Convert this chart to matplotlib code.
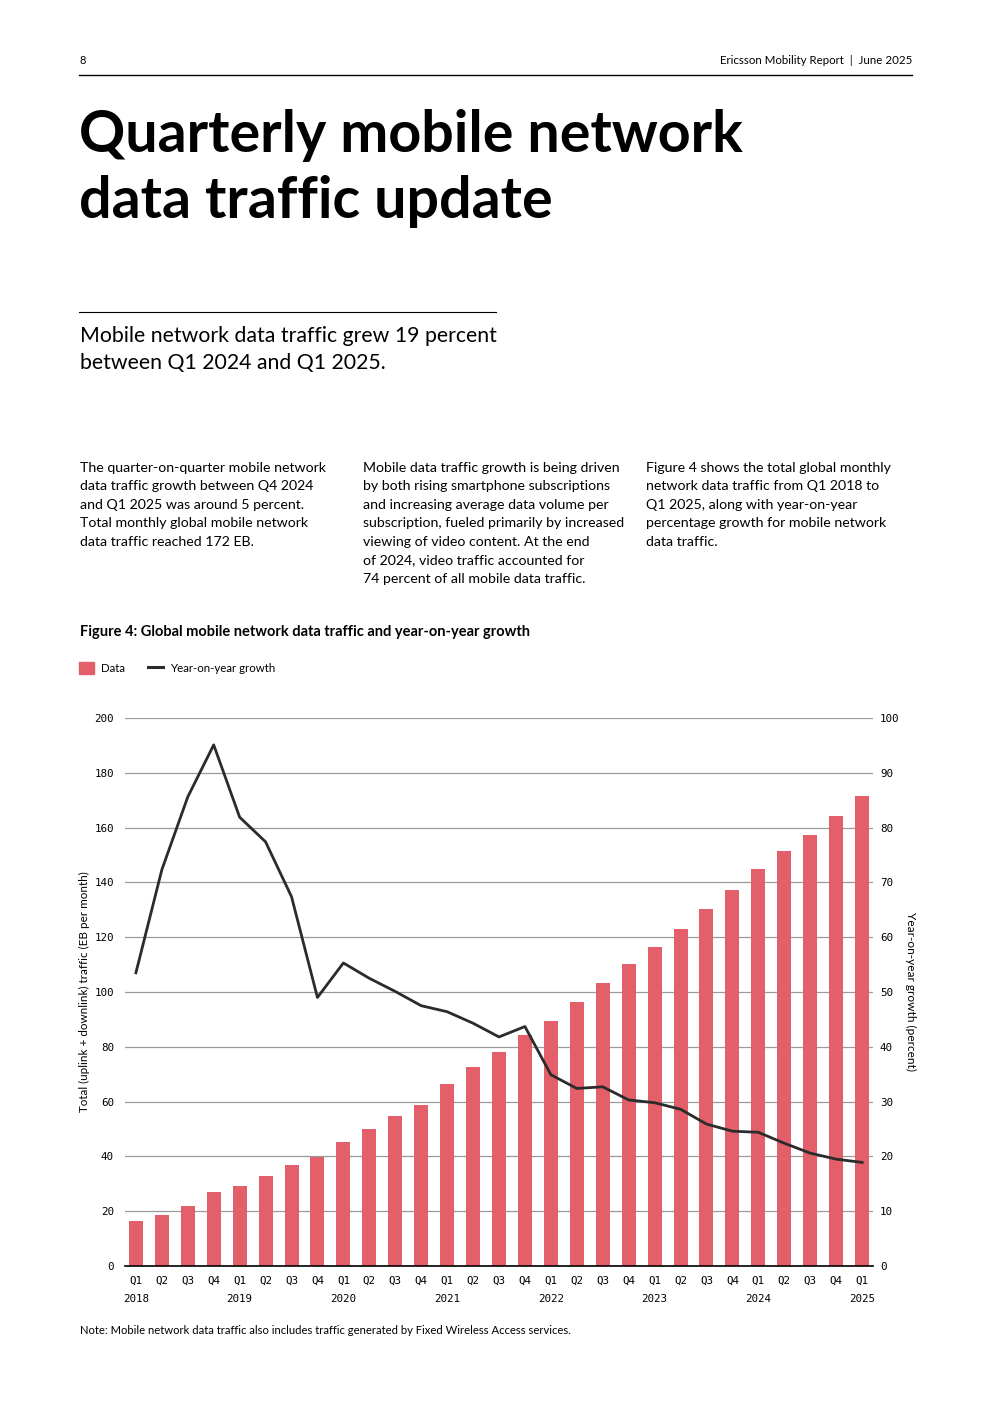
import matplotlib
matplotlib.use("Agg")
import matplotlib.pyplot as plt
from matplotlib.patches import Patch
from matplotlib.lines import Line2D

# Data
quarters = ["Q1", "Q2", "Q3", "Q4"] * 7 + ["Q1"]
years = ["2018", "2019", "2020", "2021", "2022", "2023", "2024", "2025"]
traffic = [16.4, 18.6, 21.9, 27.0, 29.2, 32.8, 36.9, 39.8,
           45.3, 50.0, 54.7, 58.8, 66.4, 72.6, 78.1, 84.3,
           89.4, 96.4, 103.4, 110.2, 116.4, 123.0, 130.3, 137.2,
           144.9, 151.5, 157.3, 164.2, 171.5]
growth = [53.5, 72.3, 85.6, 95.1, 81.9, 77.4, 67.4, 49.0,
          55.3, 52.5, 50.1, 47.5, 46.4, 44.3, 41.8, 43.7,
          34.9, 32.4, 32.7, 30.3, 29.8, 28.6, 25.9, 24.6,
          24.4, 22.4, 20.6, 19.5, 18.9]

BAR_COLOR = "#E3606B"
LINE_COLOR = "#2B2B2B"
GRID_COLOR = "#9A9A9A"
TEXT_FONT = "Lato"
MONO = "DejaVu Sans Mono"

W, H = 992, 1403
fig = plt.figure(figsize=(W / 100, H / 100), dpi=100)


def fx(px):
    return px / W


def fy(py):
    return 1 - py / H


# Page header
fig.text(fx(79), fy(60), "8", fontsize=8, family=TEXT_FONT, va="center")
fig.text(fx(912), fy(60), "Ericsson Mobility Report  |  June 2025", fontsize=8.3,
         family=TEXT_FONT, va="center", ha="right")
fig.add_artist(Line2D([fx(79), fx(912)], [fy(75), fy(75)], color="black", lw=1))

# Title
fig.text(fx(79), fy(152), "Quarterly mobile network", fontsize=41.3, family=TEXT_FONT,
         weight="bold", va="baseline")
fig.text(fx(79), fy(218), "data traffic update", fontsize=41.3, family=TEXT_FONT,
         weight="bold", va="baseline")

fig.add_artist(Line2D([fx(79), fx(496)], [fy(312), fy(312)], color="black", lw=0.8))
fig.text(fx(80), fy(336), "Mobile network data traffic grew 19 percent",
         fontsize=15.3, family=TEXT_FONT, va="center")
fig.text(fx(80), fy(363), "between Q1 2024 and Q1 2025.",
         fontsize=15.3, family=TEXT_FONT, va="center")

# Body text columns
col1 = ("The quarter-on-quarter mobile network\ndata traffic growth between Q4 2024\n"
        "and Q1 2025 was around 5 percent.\nTotal monthly global mobile network\n"
        "data traffic reached 172 EB.")
col2 = ("Mobile data traffic growth is being driven\nby both rising smartphone subscriptions\n"
        "and increasing average data volume per\nsubscription, fueled primarily by increased\n"
        "viewing of video content. At the end\nof 2024, video traffic accounted for\n"
        "74 percent of all mobile data traffic.")
col3 = ("Figure 4 shows the total global monthly\nnetwork data traffic from Q1 2018 to\n"
        "Q1 2025, along with year-on-year\npercentage growth for mobile network\n"
        "data traffic.")
for x, txt in [(80, col1), (363, col2), (646, col3)]:
    fig.text(fx(x), fy(462), txt, fontsize=10.2, family=TEXT_FONT, va="top",
             linespacing=1.65)

fig.text(fx(80), fy(632), "Figure 4: Global mobile network data traffic and year-on-year growth",
         fontsize=10.5, family=TEXT_FONT, weight="bold", va="center")

# Chart
ax = fig.add_axes([fx(125), fy(1266), fx(873) - fx(125), (1266 - 718) / H])
xs = list(range(len(traffic)))
ax.bar(xs, traffic, width=0.54, color=BAR_COLOR, zorder=2)
ax.set_xlim(-0.42, len(traffic) - 0.58)
ax.set_ylim(0, 200)
ax.set_yticks(range(0, 201, 20))
ax.grid(axis="y", color=GRID_COLOR, lw=0.9, zorder=0)
ax.set_axisbelow(True)
for s in ["top", "right", "left"]:
    ax.spines[s].set_visible(False)
ax.spines["bottom"].set_color("black")
ax.spines["bottom"].set_linewidth(1.2)

labels = []
yi = 0
for i, q in enumerate(quarters):
    if q == "Q1":
        labels.append(q + "\n" + years[yi])
        yi += 1
    else:
        labels.append(q + "\n ")
ax.set_xticks(xs)
ax.set_xticklabels(labels, family=MONO, fontsize=7.8, linespacing=2.0)
ax.tick_params(axis="x", length=0, pad=7)
ax.tick_params(axis="y", length=0, pad=8, labelsize=7.8)
for t in ax.get_yticklabels():
    t.set_family(MONO)
ax.set_ylabel("Total (uplink + downlink) traffic (EB per month)", family=TEXT_FONT,
              fontsize=8.4, labelpad=3)

ax2 = ax.twinx()
ax2.plot(xs, growth, color=LINE_COLOR, lw=2, zorder=3)
ax2.set_ylim(0, 100)
ax2.set_yticks(range(0, 101, 10))
ax2.tick_params(axis="y", length=0, pad=5, labelsize=7.8)
for t in ax2.get_yticklabels():
    t.set_family(MONO)
for s in ax2.spines.values():
    s.set_visible(False)
ax2.set_ylabel("Year-on-year growth (percent)", family=TEXT_FONT, fontsize=8.6,
               rotation=-90, labelpad=12)

handles = [Patch(color=BAR_COLOR), Line2D([0], [0], color=LINE_COLOR, lw=2.2)]
fig.legend(handles, ["Data", "Year-on-year growth"], loc="center left",
           bbox_to_anchor=(fx(69), fy(668)), ncol=2, frameon=False,
           prop={"family": TEXT_FONT, "size": 8.3}, handlelength=1.3,
           handleheight=1.3, columnspacing=2.0, handletextpad=0.6)

fig.text(fx(80), fy(1330), "Note: Mobile network data traffic also includes traffic generated by Fixed Wireless Access services.",
         fontsize=8.1, family=TEXT_FONT, va="center")

fig.savefig("out.png", dpi=100)
